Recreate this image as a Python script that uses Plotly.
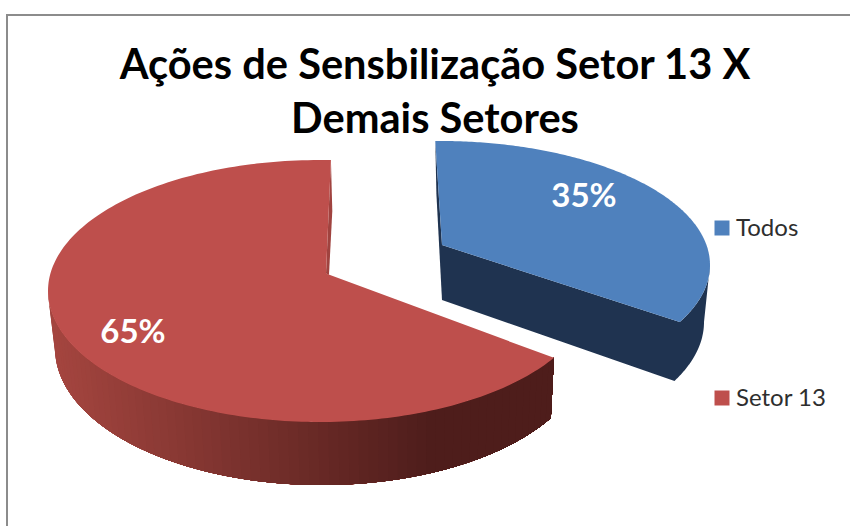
import numpy as np
import plotly.graph_objects as go

# ---- data ----
categories = ["Todos", "Setor 13"]
values = [35, 65]
title_lines = ["Ações de Sensbilização Setor 13 X", "Demais Setores"]

# ---- colours ----
TOP = {"Todos": "#4f81bd", "Setor 13": "#be4f4c"}
BACK = {"Todos": "#1f3350", "Setor 13": "#a0433f"}
WALL_DARK = {"Todos": "#1f3350", "Setor 13": "#4e1d1b"}
WALL_LIGHT = {"Todos": "#1f3350", "Setor 13": "#a4453f"}

# ---- drawing geometry of the tilted 3-D pie (plot units = pixels) ----
GEOM = {
    "Todos": dict(top=(440, 265, 270, 124), bot=(441, 322, 263, 128), apex=(442, 245), apex_b=(442, 300),
                  skew=-1.0, wall_from=90, wall_to=None, label=(584, 199), legend=(722, 228), strips=1),
    "Setor 13": dict(top=(320, 291, 272, 131), bot=(321.6, 348, 266.6, 137), apex=(326, 273.5), apex_b=(329, 275),
                     skew=2.3, wall_from=None, wall_to=270, label=(133, 334.5), legend=(722, 398), strips=70),
}
PERSPECTIVE = 9.4


def warp(theta):
    return theta - PERSPECTIVE * np.sin(np.radians(theta))


def ell(e, phi):
    cx, cy, rx, ry = e
    a = np.radians(phi)
    return cx + rx * np.sin(a), cy - ry * np.cos(a)


def mix(c1, c2, t):
    a = [int(c1[i:i + 2], 16) for i in (1, 3, 5)]
    b = [int(c2[i:i + 2], 16) for i in (1, 3, 5)]
    return "#" + "".join(f"{round(p + (q - p) * t):02x}" for p, q in zip(a, b))


def poly(x, y, color, name=None):
    return go.Scatter(x=list(x), y=list(y), mode="none", fill="toself", fillcolor=color,
                      hoverinfo="skip", showlegend=False, name=name)


fig = go.Figure()
total = sum(values)
spans = {}
start = 0.0
for cat, v in zip(categories, values):
    spans[cat] = (start, start + 360.0 * v / total)
    start = spans[cat][1]

for cat in categories:  # blue first, the red slice sits in front
    g = GEOM[cat]
    t0, t1 = spans[cat]
    p0, p1 = warp(t0) + g["skew"], warp(t1) + g["skew"]

    # hidden-side wall sliver at the slice start
    if cat == "Todos":
        sx, sy = ell(g["top"], p0)
        bx, by = ell(g["bot"], p0)
        fig.add_trace(poly([sx, bx, g["apex_b"][0], g["apex"][0], sx],
                           [sy, by, g["apex_b"][1], g["apex"][1], sy], BACK[cat]))
        near, far = p1, g["wall_from"]   # solid wall
    else:
        sx, sy = ell(g["top"], p1)
        bx, by = ell(g["bot"], p1)
        fig.add_trace(poly([sx, bx, g["apex_b"][0], g["apex"][0], sx],
                           [sy, by, g["apex_b"][1], g["apex"][1], sy], BACK[cat]))
        near, far = p0, g["wall_to"]

    # outer wall: painter's shading, each strip reaches to the wall's end so there are no seams
    edges = np.linspace(far, near, g["strips"] + 1)[:-1]
    for a in edges:
        arc = np.linspace(a, near, 120)
        xt, yt = ell(g["top"], arc)
        xb, yb = ell(g["bot"], arc[::-1])
        xm = (ell(g["top"], a)[0] + ell(g["bot"], a)[0]) / 2
        shade = np.clip((425 - xm) / (425 - 55), 0, 1)
        col = mix(WALL_DARK[cat], WALL_LIGHT[cat], shade)
        px, py = list(xt) + list(xb), list(yt) + list(yb)
        if cat == "Todos":  # cut face towards the viewer shares one outline with the wall
            px += [g["apex_b"][0], g["apex"][0]]
            py += [g["apex_b"][1], g["apex"][1]]
            ix = len(xt)  # order: wall top, then cut face, then wall bottom
            px = list(xt) + [g["apex"][0], g["apex_b"][0]] + list(xb)
            py = list(yt) + [g["apex"][1], g["apex_b"][1]] + list(yb)
        fig.add_trace(poly(px + [px[0]], py + [py[0]], col))

    # top surface
    arc = np.linspace(p0, p1, 200)
    ax, ay = ell(g["top"], arc)
    fig.add_trace(poly([g["apex"][0], *ax, g["apex"][0]], [g["apex"][1], *ay, g["apex"][1]], TOP[cat], name=cat))

# data labels
fig.add_trace(go.Scatter(
    x=[GEOM[c]["label"][0] for c in categories], y=[GEOM[c]["label"][1] for c in categories],
    mode="text", text=[f"{v}%" for v in values], textposition="middle center",
    textfont=dict(family="Lato", size=33, color="white", weight="bold"),
    hoverinfo="skip", showlegend=False))

# legend
fig.add_trace(go.Scatter(
    x=[GEOM[c]["legend"][0] for c in categories], y=[GEOM[c]["legend"][1] for c in categories],
    mode="markers", marker=dict(symbol="square", size=15, color=[TOP[c] for c in categories], line=dict(width=0)),
    hoverinfo="skip", showlegend=False))
fig.add_trace(go.Scatter(
    x=[GEOM[c]["legend"][0] + 14 for c in categories], y=[GEOM[c]["legend"][1] + 1.5 for c in categories],
    mode="text", text=categories, textposition="middle right",
    textfont=dict(family="Lato", size=24, color="#2e2e2e"),
    hoverinfo="skip", showlegend=False))

fig.update_layout(
    width=850, height=526, margin=dict(l=0, r=0, t=0, b=0),
    paper_bgcolor="white", plot_bgcolor="white", showlegend=False,
    xaxis=dict(range=[0, 850], visible=False, fixedrange=True),
    yaxis=dict(range=[526, 0], visible=False, fixedrange=True),
    title=dict(text="<br>".join(title_lines), x=435 / 850, xanchor="center", y=1 - 79 / 526, yanchor="top",
               font=dict(family="Lato", size=41.6, color="black", weight="bold")),
    shapes=[dict(type="line", xref="x", yref="y", x0=7, x1=7, y0=15, y1=526, line=dict(color="#8c8c8c", width=2)),
            dict(type="line", xref="x", yref="y", x0=6, x1=850, y0=15, y1=15, line=dict(color="#8c8c8c", width=2))],
)
fig.write_html("out.html", post_script="document.body.style.margin='0';document.body.style.overflow='hidden';",
               config=dict(displayModeBar=False))
